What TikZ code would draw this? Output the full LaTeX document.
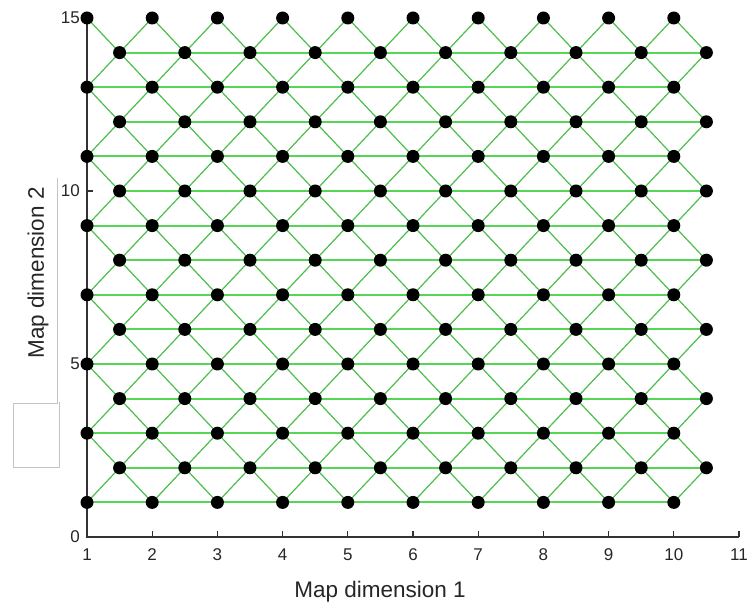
\documentclass[tikz,border=0pt]{standalone}
\usepackage{fontspec}
\setmainfont{Liberation Sans}
\definecolor{gridgreen}{RGB}{85,215,85}
\definecolor{diaggreen}{RGB}{75,190,75}
\definecolor{axisgray}{RGB}{50,50,50}
\definecolor{artgray}{RGB}{195,195,195}
\begin{document}
\begin{tikzpicture}[x=1pt,y=1pt,
  hline/.style={draw=gridgreen,line width=2pt},
  dline/.style={draw=diaggreen,line width=1.2pt},
  dot/.style={circle,fill=black,inner sep=0pt,minimum size=13pt},
  axisline/.style={draw=axisgray,line width=1.1pt},
  ticklab/.style={font=\fontsize{17}{17}\selectfont,text=black!85,inner sep=0pt},
  axislab/.style={font=\fontsize{22.5}{22.5}\selectfont,text=black!85,inner sep=0pt}]
\useasboundingbox (0,0) rectangle (752,605);
% stray gray frame
\draw[artgray,line width=0.9pt] (57,427) -- (57,202) -- (13,202) -- (13,138) -- (59,138) -- (59,203);
\begin{scope}[shift={(21.8pt,68pt)},x=65.2pt,y=34.6pt]
  % grid coordinates
  \foreach \r in {1,...,15}{
    \foreach \c in {1,...,10}{
      \pgfmathsetmacro{\xx}{\c + (isodd(\r) ? 0 : 0.5)}
      \coordinate (n-\c-\r) at (\xx,\r);
    }
  }
  % horizontal links (no link in the top row)
  \foreach \r in {1,...,14}{
    \foreach \c [evaluate=\c as \cn using int(\c+1)] in {1,...,9}{
      \draw[hline] (n-\c-\r) -- (n-\cn-\r);
    }
  }
  % diagonal links
  \foreach \r [evaluate=\r as \rd using int(\r-1), evaluate=\r as \ru using int(\r+1)] in {2,4,...,14}{
    \foreach \c [evaluate=\c as \cn using int(\c+1)] in {1,...,10}{
      \draw[dline] (n-\c-\rd) -- (n-\c-\r) -- (n-\c-\ru);
      \ifnum\c<10
        \draw[dline] (n-\cn-\rd) -- (n-\c-\r) -- (n-\cn-\ru);
      \fi
    }
  }
  % axes
  \coordinate (o) at (1,0);
  \coordinate (ytop) at (1,15);
  \coordinate (xend) at (11,0);
  \draw[axisline] (ytop) -- (o) -- (xend);
  \foreach \x in {1,...,11}{
    \coordinate (xt-\x) at (\x,0);
    \draw[axisline] (xt-\x) -- ++(0,6pt);
    \node[ticklab,anchor=base] (xl-\x) at ([yshift=-23pt]xt-\x) {\x};
  }
  \foreach \y in {0,5,10,15}{
    \coordinate (yt-\y) at (1,\y);
    \draw[axisline] (yt-\y) -- ++(6pt,0);
    \node[ticklab,anchor=east] (yl-\y) at ([xshift=-7pt]yt-\y) {\y};
  }
  % dots
  \foreach \r in {1,...,15}{
    \foreach \c in {1,...,10}{
      \node[dot] (d-\c-\r) at (n-\c-\r) {};
    }
  }
\end{scope}
\node[axislab,anchor=base] (xlab) at (380,8) {Map dimension 1};
\node[axislab,rotate=90] (ylab) at (38,332) {Map dimension 2};
\end{tikzpicture}
\end{document}
